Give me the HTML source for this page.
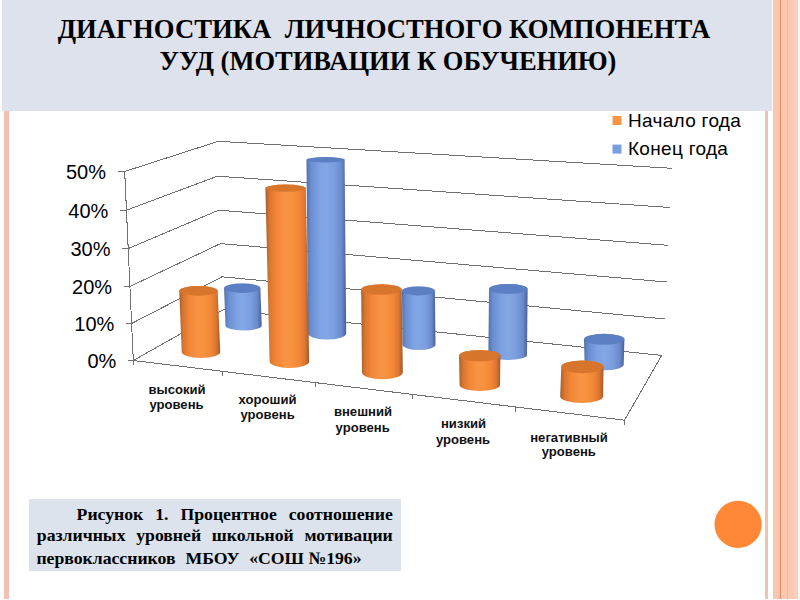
<!DOCTYPE html>
<html><head><meta charset="utf-8">
<style>
*{margin:0;padding:0;box-sizing:border-box}
html,body{width:800px;height:600px;overflow:hidden;background:#fff}
body{position:relative;font-family:"Liberation Sans",sans-serif}
.abs{position:absolute}
#titlebg{left:2px;top:0;width:770px;height:111px;background:#DEE2EC}
.tl{width:772px;text-align:center;font:bold 26.5px/32px "Liberation Serif",serif;color:#000;white-space:pre}
#lstripe{left:4px;top:111px;width:5px;height:488px;background:linear-gradient(to right,#EEC2B2 0,#EEC2B2 1px,#FCBDAF 1px,#FEBFB0 3.8px,#EBC3AC 3.8px)}
#rthin{left:765px;top:111px;width:3px;height:488px;background:#F0C3AC}
#rstripes{left:773px;top:0;width:27px;height:599px;
background:linear-gradient(to right,#F2C6C4 0,#F2C6C4 1.5px,#FCC8AA 1.5px,#FCC8AA 4.5px,#FCC2B8 4.5px,#FCC2B8 7px,#D88F5C 7px,#D88F5C 8.2px,#FDCFA2 8.2px,#FDCFA2 9.5px,#FCC6B0 9.5px,#FCC6B0 14px,#F1B9A2 14px,#F1B9A2 15.5px,#FCCAB2 15.5px,#FCCAB2 21.5px,#F8D0C0 21.5px,#F8D0C0 25.5px,#FFF4EE 25.5px)}
#caption{left:29px;top:499px;width:372px;height:72px;background:#DCE3EC}
.cl{position:absolute;font:bold 17.7px "Liberation Serif",serif;color:#000;white-space:pre;line-height:20px}
.jl{display:flex;justify-content:space-between}
.ax{font-family:"Liberation Sans",sans-serif;font-size:20px;fill:#000}
.cat{font-family:"Liberation Sans",sans-serif;font-size:13.1px;font-weight:bold;fill:#111}
.leg{font-family:"Liberation Sans",sans-serif;font-size:19px;letter-spacing:0.3px;fill:#000}
</style></head>
<body>
<div class="abs" id="titlebg"></div>
<div class="abs tl" style="top:13px;left:-2px;font-size:26.7px">ДИАГНОСТИКА  ЛИЧНОСТНОГО КОМПОНЕНТА</div>
<div class="abs tl" style="top:45px;left:2px">УУД (МОТИВАЦИИ К ОБУЧЕНИЮ)</div>
<div class="abs" id="lstripe"></div>
<div class="abs" id="rthin"></div>
<div class="abs" id="rstripes"></div>

<svg class="abs" style="left:0;top:0" width="800" height="600" viewBox="0 0 800 600">
<defs>
<linearGradient id="og" x1="0" x2="1" y1="0" y2="0">
<stop offset="0" stop-color="#9A5828"/>
<stop offset="0.035" stop-color="#BC662C"/>
<stop offset="0.1" stop-color="#DA772F"/>
<stop offset="0.25" stop-color="#F18636"/>
<stop offset="0.45" stop-color="#F99444"/>
<stop offset="0.6" stop-color="#F8923F"/>
<stop offset="0.78" stop-color="#F18636"/>
<stop offset="0.9" stop-color="#DC7631"/>
<stop offset="0.965" stop-color="#B6652D"/>
<stop offset="1" stop-color="#965629"/>
</linearGradient>
<linearGradient id="bg" x1="0" x2="1" y1="0" y2="0">
<stop offset="0" stop-color="#4C669C"/>
<stop offset="0.04" stop-color="#5B7DBF"/>
<stop offset="0.12" stop-color="#6A8FD2"/>
<stop offset="0.35" stop-color="#7EA2E2"/>
<stop offset="0.5" stop-color="#83A6E5"/>
<stop offset="0.7" stop-color="#7C9EDE"/>
<stop offset="0.88" stop-color="#6A8ACB"/>
<stop offset="0.96" stop-color="#546FA9"/>
<stop offset="1" stop-color="#445A8C"/>
</linearGradient>
</defs>
<g stroke="#707070" stroke-width="1" fill="none" shape-rendering="crispEdges">
<!-- left axis -->
<path d="M124.7 171.5 L133.5 365"/>
<!-- ticks -->
<path d="M118 171.5H124.7 M120 210.4H125.9 M122 248.8H127.7 M124 286.6H129.6 M126 323.4H131.8 M128 360.5H133.3"/>
<!-- left wall gridlines -->
<path d="M124.7 171.5L218.3 141.3 M125.9 210.4L217.4 176.2 M127.7 248.8L218.6 210.2 M129.6 286.6L220.6 243.6 M131.8 323.4L222 276.8 M133.3 360.5L223.4 309.7"/>
<!-- back wall gridlines -->
<path d="M218.3 141.3L672 168.3 M217.4 176.2L670 207.5 M218.6 210.2L668 245.3 M220.6 243.6L667 282 M222 276.8L665 319 M223.4 309.7L661.7 355.4"/>
<!-- floor -->
<path d="M133.3 360.5L624.5 420.2L661.7 355.4"/>
<path d="M222.25 371.3V375.8 M315.5 382.8V387 M412.4 394.4V398.8 M515.4 407V412 M624.5 420.2V424.7"/>
</g>
<!-- blue cylinders (behind) -->
<g id="blues"><path d="M224.1 288.2L225.5 325.5A18.1 5.0 0 0 0 261.7 325.5L260.4 288.2A18.1 4.7 0 0 0 224.1 288.2Z" fill="url(#bg)"/><ellipse cx="242.2" cy="288.2" rx="18.1" ry="4.7" fill="#5C7EC2"/><path d="M306.5 159.8L308.0 333.3A19.1 6.3 0 0 0 346.2 333.3L344.6 159.8A19.1 2.7 0 0 0 306.5 159.8Z" fill="url(#bg)"/><ellipse cx="325.6" cy="159.8" rx="19.1" ry="2.7" fill="#5C7EC2"/><path d="M402.0 290.9L402.5 344.5A16.5 5.6 0 0 0 435.5 344.5L434.9 290.9A16.4 4.5 0 0 0 402.0 290.9Z" fill="url(#bg)"/><ellipse cx="418.4" cy="290.9" rx="16.4" ry="4.5" fill="#5C7EC2"/><path d="M489.0 289.0L488.4 355.0A19.3 5.0 0 0 0 527.0 355.0L527.6 289.0A19.3 5.0 0 0 0 489.0 289.0Z" fill="url(#bg)"/><ellipse cx="508.3" cy="289.0" rx="19.3" ry="5.0" fill="#5C7EC2"/><path d="M584.0 339.3L584.7 364.8A19.5 5.5 0 0 0 623.7 364.8L624.4 339.3A20.2 5.5 0 0 0 584.0 339.3Z" fill="url(#bg)"/><ellipse cx="604.2" cy="339.3" rx="20.2" ry="5.5" fill="#5C7EC2"/></g>
<g id="oranges"><path d="M179.3 290.9L181.7 352.0A19.2 6.0 0 0 0 220.2 352.0L217.7 290.9A19.2 4.8 0 0 0 179.3 290.9Z" fill="url(#og)"/><ellipse cx="198.5" cy="290.9" rx="19.2" ry="4.8" fill="#D8752D"/><path d="M265.4 188.2L269.6 361.5A19.8 6.4 0 0 0 309.2 361.5L305.8 188.2A20.2 3.6 0 0 0 265.4 188.2Z" fill="url(#og)"/><ellipse cx="285.6" cy="188.2" rx="20.2" ry="3.6" fill="#D8752D"/><path d="M361.2 289.5L362.0 372.5A20.4 6.7 0 0 0 402.8 372.5L401.7 289.5A20.2 5.3 0 0 0 361.2 289.5Z" fill="url(#og)"/><ellipse cx="381.4" cy="289.5" rx="20.2" ry="5.3" fill="#D8752D"/><path d="M459.1 355.7L459.6 385.0A20.2 6.0 0 0 0 500.0 385.0L500.4 355.7A20.6 5.8 0 0 0 459.1 355.7Z" fill="url(#og)"/><ellipse cx="479.8" cy="355.7" rx="20.6" ry="5.8" fill="#D8752D"/><path d="M561.3 366.8L560.2 396.5A21.4 6.4 0 0 0 603.1 396.5L603.5 366.8A21.1 6.4 0 0 0 561.3 366.8Z" fill="url(#og)"/><ellipse cx="582.4" cy="366.8" rx="21.1" ry="6.4" fill="#D8752D"/></g>

<!-- axis labels -->
<g class="ax" text-anchor="end">
<text x="106" y="178.5">50%</text>
<text x="108.3" y="217.5">40%</text>
<text x="110.5" y="255.8">30%</text>
<text x="112.1" y="293.7">20%</text>
<text x="114.4" y="330.8">10%</text>
<text x="116.3" y="367.8">0%</text>
</g>
<g class="cat" text-anchor="middle">
<text x="177" y="393.8">высокий</text><text x="176.5" y="408.9">уровень</text>
<text x="267.6" y="404">хороший</text><text x="267.6" y="418.9">уровень</text>
<text x="363" y="415.8">внешний</text><text x="362.7" y="431.6">уровень</text>
<text x="463.5" y="427.5">низкий</text><text x="463" y="443.5">уровень</text>
<text x="569" y="441.9">негативный</text><text x="568.8" y="456.3">уровень</text>
</g>
<!-- legend -->
<rect x="612.5" y="116" width="9" height="9" fill="#F79646"/>
<rect x="612.5" y="144.6" width="9" height="9" fill="#7A9FE0"/>
<text class="leg" x="628" y="126.6">Начало года</text>
<text class="leg" x="628" y="155">Конец года</text>
<!-- orange dot -->
<circle cx="738.1" cy="524.4" r="23.6" fill="#FE8836"/>
</svg>

<div class="abs" id="caption"></div>
<div class="cl jl" style="left:76.6px;top:504px;width:316.2px"><span>Рисунок</span><span>1.</span><span>Процентное</span><span>соотношение</span></div>
<div class="cl jl" style="left:36.8px;top:525px;width:356px"><span>различных</span><span>уровней</span><span>школьной</span><span>мотивации</span></div>
<div class="cl" style="left:36.4px;top:547.8px">первоклассников</div>
<div class="cl" style="left:185.5px;top:547.8px">МБОУ</div>
<div class="cl" style="left:249.2px;top:547.8px">«СОШ №196»</div>
</body></html>
